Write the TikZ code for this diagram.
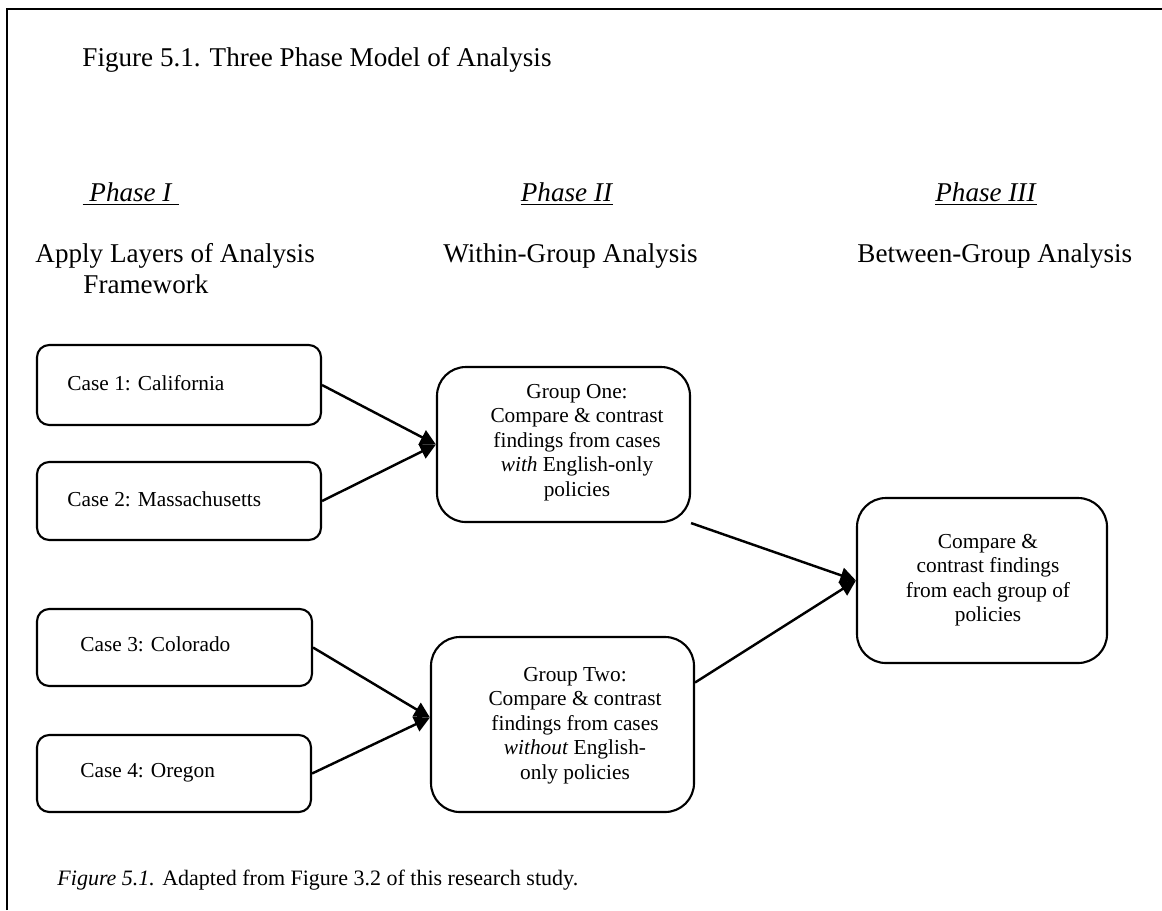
\documentclass[tikz,border=0pt]{standalone}
\usepackage{fontspec}
\setmainfont{Liberation Serif}
\usetikzlibrary{arrows.meta,calc}
\begin{document}
\begin{tikzpicture}[x=0.45pt,y=-0.45pt,
  big/.style={font=\fontsize{12.2}{14}\selectfont, inner sep=0},
  small/.style={font=\fontsize{9.6}{11}\selectfont, inner sep=0, align=center},
  capt/.style={font=\fontsize{9.9}{12}\selectfont, inner sep=0},
  casebox/.style={draw, line width=0.95pt, rounded corners=5.5pt, inner sep=0},
  groupbox/.style={draw, line width=0.95pt, rounded corners=13pt, inner sep=0},
  conn/.style={line width=1.1pt, -{Triangle[length=7pt,width=7pt]}}
]
\useasboundingbox (0,0) rectangle (1162,910);
% frame
\coordinate (fb) at (7,910);
\coordinate (ftl) at (7,9);
\coordinate (ftr) at (1162,9);
\draw[line width=1pt] (fb) -- (ftl) -- (ftr);

% title and headings
\node[big, anchor=base west] (title) at (82,66) {Figure 5.1. Three Phase Model of Analysis};
\node[big, anchor=base] (ph1) at (131,201) {\underline{\textit{\ Phase I\ }}};
\node[big, anchor=base] (ph2) at (567,201) {\underline{\textit{Phase II}}};
\node[big, anchor=base] (ph3) at (986,201) {\underline{\textit{Phase III}}};
\node[big, anchor=base west] (h1a) at (35,262) {Apply Layers of Analysis};
\node[big, anchor=base west] (h1b) at (83,293) {Framework};
\node[big, anchor=base west] (h2) at (443,262) {Within-Group Analysis};
\node[big, anchor=base west] (h3) at (857,262) {Between-Group Analysis};

% case boxes
\node[casebox, minimum width=127.8pt, minimum height=36pt] (c1) at (179,385) {};
\node[casebox, minimum width=127.8pt, minimum height=35.1pt] (c2) at (179,501) {};
\node[casebox, minimum width=123.75pt, minimum height=34.65pt] (c3) at (174.5,647.5) {};
\node[casebox, minimum width=123.3pt, minimum height=34.65pt] (c4) at (174,773.5) {};
\node[small, anchor=base west] (t1) at (67,390) {Case 1: California};
\node[small, anchor=base west] (t2) at (67,506) {Case 2: Massachusetts};
\node[small, anchor=base west] (t3) at (80,651) {Case 3: Colorado};
\node[small, anchor=base west] (t4) at (80,777) {Case 4: Oregon};

% group boxes
\node[groupbox, minimum width=113.85pt, minimum height=69.75pt] (g1) at (563.5,444.5) {};
\node[groupbox, minimum width=118.35pt, minimum height=78.75pt] (g2) at (562.5,724.5) {};
\node[groupbox, minimum width=112.5pt, minimum height=74.25pt] (g3) at (982,580.5) {};
\node[small] (g1t) at (577,442.5) {Group One:\\Compare \& contrast\\findings from cases\\\textit{with} English-only\\policies};
\node[small] (g2t) at (575,725.5) {Group Two:\\Compare \& contrast\\findings from cases\\\textit{without} English-\\only policies};
\node[small] (g3t) at (988,580) {Compare \&\\contrast findings\\from each group of\\policies};

% connectors
\draw[conn] (c1.east) -- (g1.west);
\draw[conn] (c2.east) -- (g1.west);
\draw[conn] (c3.east) -- ($(g2.west)+(0,-7)$);
\draw[conn] (c4.east) -- ($(g2.west)+(0,-7)$);
\draw[conn] (g1.south east) -- (g3.west);
\draw[conn] ($(g2.east)+(0,-42)$) -- (g3.west);

% caption
\node[capt, anchor=base west] (cap) at (57,885) {\textit{Figure 5.1.} Adapted from Figure 3.2 of this research study.};
\end{tikzpicture}
\end{document}
